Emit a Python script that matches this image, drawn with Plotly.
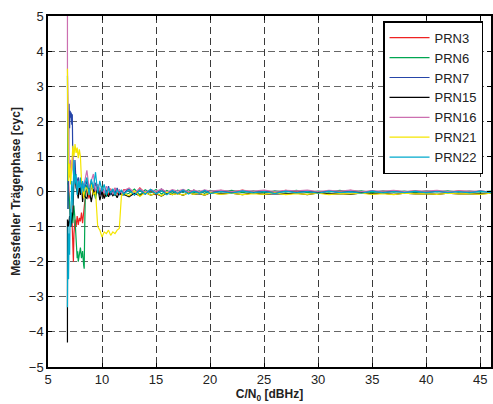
import plotly.graph_objects as go

# ---------------- data ----------------
SERIES = ["PRN3", "PRN6", "PRN7", "PRN15", "PRN16", "PRN21", "PRN22"]
COLORS = ["#ee2222", "#00a651", "#2645a8", "#000000", "#cc6fb0", "#f5e600", "#00a9cc"]

X_MID = [8.6, 8.8, 9.0, 9.2, 9.4, 9.6, 9.8, 10.0, 10.2, 10.4, 10.6, 10.8,
         11.0, 11.2, 11.4, 11.6, 11.8, 12.0]
X_TAIL = [12.5, 13.0, 13.5, 14.0, 14.5, 15.0, 15.5, 16.0, 16.5, 17.0, 17.5,
          18.0, 18.5, 19.0, 19.5, 20.0,
          21, 22, 23, 24, 25, 26, 27, 28, 29, 30, 31, 32, 33, 34, 35, 36,
          37, 38, 39, 40, 41, 42, 43, 44, 45, 46]

# early (acquisition) part: C/N0 and phase error
PRN3_X_EARLY = [6.85, 6.9, 7.0, 7.1, 7.2, 7.3, 7.35, 7.4, 7.5, 7.6, 7.7, 7.8,
                7.9, 8.0, 8.1, 8.2, 8.3, 8.4]
PRN3_Y_EARLY = [0.2, 0.3, -0.5, -1.0, -0.6, -1.9, -2.0, -1.2, -0.8, -1.0,
                -0.7, -0.95, -0.75, -0.85, -0.6, -0.9, -0.5, -0.3]
PRN6_X_EARLY = [6.8, 6.8, 6.85, 6.9, 7.0, 7.1, 7.2, 7.3, 7.4, 7.5, 7.6, 7.7,
                7.75, 7.8, 7.9, 8.0, 8.1, 8.2, 8.3, 8.35, 8.4, 8.45]
PRN6_Y_EARLY = [3.3, 1.4, -0.5, 0.0, -0.3, -1.0, -0.6, -0.9, -0.4, -0.8,
                -1.6, -1.9, -1.7, -2.0, -1.8, -1.6, -1.9, -1.7, -2.1, -2.2,
                -1.0, -0.1]
PRN7_X_EARLY = [6.85, 6.9, 6.95, 7.0, 7.05, 7.1, 7.15, 7.2, 7.25, 7.3, 7.4,
                7.5, 7.6, 7.8, 8.0, 8.2, 8.4]
PRN7_Y_EARLY = [-0.5, 1.4, 2.5, 1.8, 2.3, 2.1, 2.25, 1.9, 2.2, 0.8, 0.3,
                0.9, 0.2, 0.4, 0.0, 0.25, 0.1]
PRN15_X_EARLY = [6.8, 6.8, 6.9, 7.0, 7.1, 7.2, 7.3, 7.4, 7.5, 7.6, 7.7, 7.8,
                 7.9, 8.0, 8.1, 8.2, 8.3, 8.4]
PRN15_Y_EARLY = [-4.3, -0.8, -1.0, -0.7, -1.0, -0.8, -0.6, 0.3, 0.5, 0.1,
                 0.0, -0.2, 0.2, -0.1, 0.3, -0.3, 0.0, -0.15]
PRN16_X_EARLY = [6.8, 6.8, 6.95, 7.0, 7.1, 7.2, 7.3, 7.4, 7.5, 7.6, 7.8, 8.0,
                 8.2, 8.4]
PRN16_Y_EARLY = [5.0, 3.5, 0.8, 0.4, 0.9, 0.6, 1.0, 0.5, 0.3, 0.4, 0.1, 0.2,
                 0.0, 0.3]
PRN21_X_EARLY = [6.8, 6.8, 6.9, 7.0, 7.1, 7.2, 7.3, 7.4, 7.5, 7.6, 7.7, 7.8,
                 7.9, 8.0, 8.1, 8.2, 8.3, 8.4]
PRN21_Y_EARLY = [3.5, 3.3, 0.3, 0.8, 0.2, 0.9, 1.3, 1.0, 1.35, 1.1, 1.25,
                 0.95, 1.2, 1.0, 0.3, 0.1, -0.2, 0.1]
PRN22_X_EARLY = [6.8, 6.85, 6.9, 6.95, 7.0, 7.05, 7.1, 7.2, 7.3, 7.4, 7.5,
                 7.6, 7.7, 7.8, 7.9, 8.0, 8.1, 8.2, 8.3, 8.4]
PRN22_Y_EARLY = [-3.3, -1.0, -2.5, -1.2, -1.8, -0.5, -1.0, 0.3, -0.4, 0.9,
                 0.2, 0.5, -0.1, 0.3, 0.1, 0.4, -0.05, 0.3, 0.0, 0.2]

# converging part (8.6 ... 12 dBHz)
PRN3_Y_MID = [0.1, -0.2, 0.15, 0.0, -0.1, 0.2, -0.05, 0.1, -0.15, 0.05, -0.1,
              0.08, -0.05, 0.1, -0.08, 0.02, -0.1, 0.05]
PRN6_Y_MID = [0.2, -0.1, 0.3, 0.0, -0.2, 0.1, -0.1, 0.15, -0.05, -0.15, 0.05,
              -0.1, 0.0, -0.12, 0.05, -0.08, 0.0, -0.1]
PRN7_Y_MID = [0.3, 0.0, 0.2, -0.1, 0.25, 0.05, -0.1, 0.1, 0.0, -0.05, 0.15,
              -0.1, 0.05, -0.05, 0.1, -0.1, 0.0, -0.05]
PRN15_Y_MID = [-0.2, 0.1, -0.3, 0.05, -0.1, 0.15, -0.25, 0.0, -0.2, -0.05,
               -0.15, 0.0, -0.12, -0.05, -0.18, -0.02, -0.1, -0.08]
PRN16_Y_MID = [0.6, 0.1, 0.3, 0.5, 0.0, 0.2, 0.05, 0.1, -0.05, 0.15, 0.0,
               0.05, -0.08, 0.1, 0.0, 0.05, -0.05, 0.02]
PRN21_Y_MID = [0.1, -0.1, 0.2, -0.1, 0.0, -1.0, -1.1, -1.3, -1.15, -1.2,
               -1.1, -1.25, -1.15, -1.2, -1.1, -1.05, -0.1, -0.05]
PRN22_Y_MID = [0.4, -0.1, 0.35, 0.1, 0.55, -0.05, 0.3, 0.0, 0.2, -0.1, 0.1,
               -0.05, 0.08, -0.1, 0.05, -0.05, 0.05, -0.08]

# steady-state part (12.5 ... 46 dBHz)
PRN3_Y_TAIL = [0.06, -0.08, 0.1, -0.05, 0.03, -0.1, 0.06, -0.04, 0.02, -0.06,
               0.05, -0.03, 0.04, -0.05, 0.02, -0.04,
               0.03, -0.02, 0.04, -0.03, 0.02, -0.04, 0.03, -0.01, 0.02, -0.03,
               0.01, -0.02, 0.03, -0.02, 0.01, -0.03, 0.02, -0.01, 0.02, -0.02,
               0.01, -0.03, 0.02, -0.01, 0.01, -0.02]
PRN6_Y_TAIL = [-0.05, 0.07, -0.09, 0.05, -0.04, 0.06, -0.07, 0.03, -0.05,
               0.04, -0.03, 0.05, -0.04, 0.02, -0.05, 0.03,
               -0.02, 0.03, -0.03, 0.02, -0.04, 0.02, -0.02, 0.03, -0.03, 0.01,
               -0.02, 0.03, -0.01, 0.02, -0.03, 0.02, -0.02, 0.01, -0.03, 0.02,
               -0.01, 0.02, -0.02, 0.01, -0.02, 0.01]
PRN7_Y_TAIL = [0.08, -0.1, 0.05, -0.08, 0.04, -0.06, 0.07, -0.05, 0.03,
               -0.07, 0.02, -0.05, 0.04, -0.06, 0.03, -0.04,
               0.01, -0.04, 0.02, -0.03, 0.01, -0.05, 0.02, -0.03, 0.01, -0.04,
               0.02, -0.03, 0.0, -0.04, 0.02, -0.03, 0.01, -0.02, 0.0, -0.03,
               0.01, -0.02, 0.0, -0.03, 0.01, -0.02]
PRN15_Y_TAIL = [-0.15, -0.05, -0.12, -0.02, -0.1, -0.06, -0.13, -0.04, -0.09,
                -0.05, -0.11, -0.03, -0.08, -0.06, -0.1, -0.04,
                -0.07, -0.05, -0.09, -0.04, -0.08, -0.06, -0.07, -0.05, -0.09,
                -0.04, -0.07, -0.06, -0.08, -0.04, -0.07, -0.05, -0.08, -0.05,
                -0.07, -0.06, -0.08, -0.05, -0.07, -0.06, -0.07, -0.05]
PRN16_Y_TAIL = [0.1, -0.03, 0.08, -0.02, 0.06, 0.0, 0.07, -0.02, 0.05, 0.01,
                0.06, -0.01, 0.04, 0.0, 0.05, 0.01,
                0.04, 0.0, 0.03, 0.01, 0.04, 0.0, 0.03, 0.02, 0.04, 0.0, 0.03,
                0.01, 0.04, 0.0, 0.02, 0.01, 0.03, 0.0, 0.02, 0.01, 0.03, 0.0,
                0.02, 0.01, 0.02, 0.0]
PRN21_Y_TAIL = [-0.12, 0.02, -0.14, -0.03, -0.1, -0.05, -0.12, -0.02, -0.09,
                -0.06, -0.1, -0.04, -0.08, -0.05, -0.1, -0.03,
                -0.08, -0.05, -0.09, -0.06, -0.08, -0.04, -0.09, -0.06, -0.08,
                -0.05, -0.09, -0.06, -0.07, -0.05, -0.08, -0.06, -0.09, -0.05,
                -0.07, -0.06, -0.08, -0.05, -0.07, -0.06, -0.08, -0.05]
PRN22_Y_TAIL = [0.05, -0.1, 0.04, -0.08, 0.06, -0.07, 0.02, -0.09, 0.03,
                -0.06, 0.04, -0.07, 0.01, -0.05, 0.03, -0.06,
                0.0, -0.05, 0.02, -0.04, 0.0, -0.06, 0.01, -0.04, 0.0, -0.05,
                0.01, -0.03, -0.01, -0.05, 0.01, -0.04, 0.0, -0.03, 0.01, -0.04,
                0.0, -0.03, 0.0, -0.04, 0.01, -0.03]

X_EARLY = [PRN3_X_EARLY, PRN6_X_EARLY, PRN7_X_EARLY, PRN15_X_EARLY,
           PRN16_X_EARLY, PRN21_X_EARLY, PRN22_X_EARLY]
Y_EARLY = [PRN3_Y_EARLY, PRN6_Y_EARLY, PRN7_Y_EARLY, PRN15_Y_EARLY,
           PRN16_Y_EARLY, PRN21_Y_EARLY, PRN22_Y_EARLY]
Y_MID = [PRN3_Y_MID, PRN6_Y_MID, PRN7_Y_MID, PRN15_Y_MID, PRN16_Y_MID,
         PRN21_Y_MID, PRN22_Y_MID]
Y_TAIL = [PRN3_Y_TAIL, PRN6_Y_TAIL, PRN7_Y_TAIL, PRN15_Y_TAIL, PRN16_Y_TAIL,
          PRN21_Y_TAIL, PRN22_Y_TAIL]

X_TICKS = [5, 10, 15, 20, 25, 30, 35, 40, 45]
Y_TICKS = [-5, -4, -3, -2, -1, 0, 1, 2, 3, 4, 5]

# ---------------- figure ----------------
fig = go.Figure()
for name, col, xe, ye, ym, yt in zip(SERIES, COLORS, X_EARLY, Y_EARLY, Y_MID, Y_TAIL):
    fig.add_trace(go.Scatter(
        x=xe + X_MID + X_TAIL, y=ye + ym + yt, name=name, mode="lines",
        line=dict(color=col, width=1.2),
    ))

FONT = "Liberation Sans, Arial, sans-serif"
axis_common = dict(
    showline=True, linecolor="black", linewidth=1.5, mirror="ticks",
    ticks="inside", ticklen=4, tickcolor="black",
    showgrid=True, griddash="7px,4px", gridwidth=1,
    zeroline=False, tickfont=dict(family=FONT, size=13, color="#222"),
)
fig.update_xaxes(range=[5, 46], tickvals=X_TICKS, gridcolor="#3a3a3a", **axis_common,
                 title=dict(text="<b>C/N<sub>0</sub> [dBHz]</b>", standoff=3,
                            font=dict(family=FONT, size=12, color="#222")))
fig.update_yaxes(range=[-5, 5], tickvals=Y_TICKS, gridcolor="#666666", **axis_common,
                 title=dict(text="<b>Messfehler Trägerphase [cyc]</b>", standoff=6,
                            font=dict(family=FONT, size=12, color="#222")))

fig.update_layout(
    width=493, height=404,
    margin=dict(l=48, r=0, t=16, b=37),
    paper_bgcolor="white", plot_bgcolor="white",
    showlegend=True,
    legend=dict(x=0.982, y=0.985, xanchor="right", yanchor="top",
                bgcolor="white", bordercolor="black", borderwidth=1.5,
                font=dict(family=FONT, size=13, color="#222"),
                itemwidth=40, tracegroupgap=0),
)

fig.write_html("out.html", config={"displayModeBar": False},
               post_script="document.body.style.margin='0';document.body.style.padding='0';")
